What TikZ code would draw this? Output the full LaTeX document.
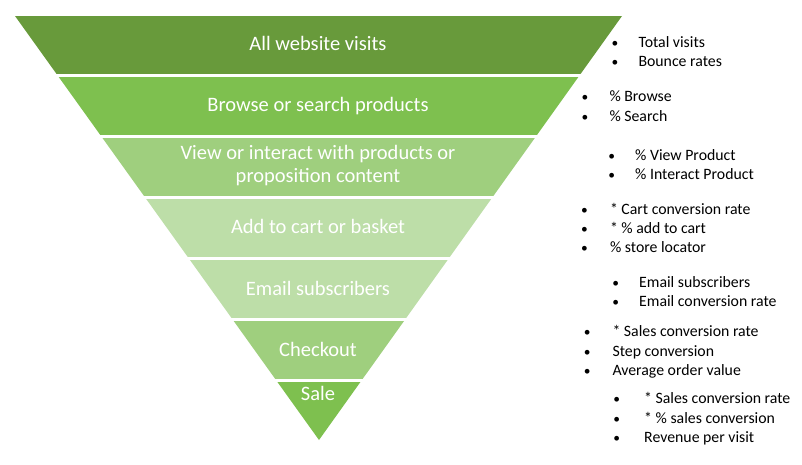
\documentclass[tikz,border=0pt]{standalone}
\usepackage{fontspec}
\setmainfont{Carlito}
\definecolor{gA}{HTML}{689A3B}
\definecolor{gB}{HTML}{7EC04F}
\definecolor{gC}{HTML}{9FCF7E}
\definecolor{gD}{HTML}{BDDEA8}
\tikzset{
  bandtext/.style={anchor=base, text=white, inner sep=0pt, font=\fontsize{20.5}{23}\selectfont, align=center},
  bul/.style={anchor=base, inner sep=0pt, font=\fontsize{13.5}{19}\selectfont},
  item/.style={anchor=base west, inner sep=0pt, font=\fontsize{15.8}{19}\selectfont},
}
\begin{document}
\begin{tikzpicture}[x=1pt,y=1pt]
\useasboundingbox (0,0) rectangle (802,-464);
\begin{scope}
  \clip (15,-16) -- (622,-16) -- (319,-440) -- cycle;
  \fill[gA] (0,-16) rectangle (802,-74);
  \fill[gB] (0,-77) rectangle (802,-135);
  \fill[gC] (0,-138) rectangle (802,-196);
  \fill[gD] (0,-199) rectangle (802,-257);
  \fill[gD] (0,-260) rectangle (802,-318);
  \fill[gC] (0,-321) rectangle (802,-379);
  \fill[gB] (0,-382) rectangle (802,-441);
\end{scope}
\node[bandtext] (s1) at (318,-50) {All website visits};
\node[bandtext] (s2) at (318,-111.5) {Browse or search products};
\node[bandtext] (s3a) at (318,-159) {View or interact with products or};
\node[bandtext] (s3b) at (318,-182) {proposition content};
\node[bandtext] (s4) at (318,-233) {Add to cart or basket};
\node[bandtext] (s5) at (318,-295) {Email subscribers};
\node[bandtext] (s6) at (318,-356.5) {Checkout};
\node[bandtext] (s7) at (318,-400.5) {Sale};
\foreach \bx/\tx/\y/\t [count=\i] in {
  615/638.3/47.7/Total visits,
  615/638.3/66.7/Bounce rates,
  585/609.3/101.7/\% Browse,
  585/609.3/121/\% Search,
  611.7/635/160/\% View Product,
  611.7/635/179.3/\% Interact Product,
  584.5/609.8/214.3/* Cart conversion rate,
  584.5/609.8/233.3/* \% add to cart,
  584.5/609.8/252.7/\% store locator,
  615.7/639/287.3/Email subscribers,
  615.7/639/306.7/Email conversion rate,
  587.3/612.3/336.7/* Sales conversion rate,
  587.3/612.3/356/Step conversion,
  587.3/612.3/375/Average order value,
  616.7/644/403.3/* Sales conversion rate,
  616.7/644/423.3/* \% sales conversion,
  616.7/644/442.7/Revenue per visit}{
  \node[bul] (b\i) at (\bx,-\y) {\textbullet};
  \node[item] (t\i) at (\tx,-\y) {\t};
}
\end{tikzpicture}
\end{document}
